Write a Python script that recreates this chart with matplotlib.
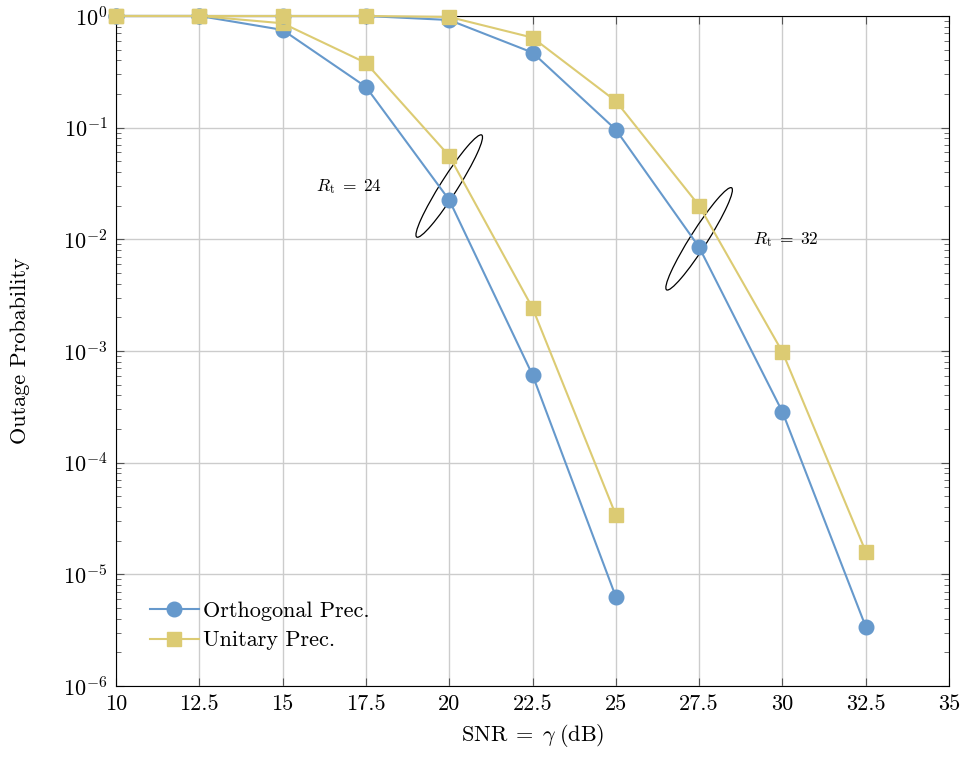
import matplotlib
matplotlib.use("Agg")
import matplotlib.pyplot as plt
from matplotlib.patches import Ellipse
from matplotlib.transforms import ScaledTranslation
from matplotlib.ticker import LogLocator, NullFormatter

plt.rcParams["font.family"] = "serif"
plt.rcParams["font.serif"] = ["cmr10"]
plt.rcParams["mathtext.fontset"] = "cm"
plt.rcParams["axes.formatter.use_mathtext"] = True

# outage probability vs SNR, two target rates
snr_24 = [10, 12.5, 15, 17.5, 20, 22.5, 25]
orth_24 = [1.0, 1.0, 0.75, 0.232, 0.0225, 6.1e-4, 6.3e-6]
unit_24 = [1.0, 1.0, 0.86, 0.38, 0.0558, 2.43e-3, 3.4e-5]

snr_32 = [10, 12.5, 15, 17.5, 20, 22.5, 25, 27.5, 30, 32.5]
orth_32 = [1.0, 1.0, 1.0, 1.0, 0.92, 0.47, 0.096, 8.5e-3, 2.85e-4, 3.4e-6]
unit_32 = [1.0, 1.0, 1.0, 1.0, 0.98, 0.64, 0.173, 0.0200, 9.8e-4, 1.6e-5]

xticks = [10, 12.5, 15, 17.5, 20, 22.5, 25, 27.5, 30, 32.5, 35]
xtick_labels = ["10", "12.5", "15", "17.5", "20", "22.5", "25", "27.5", "30", "32.5", "35"]

# rate annotations and the ellipses grouping each pair of curves
rate_labels = [r"$R_{\mathrm{t}}\;=\;24$", r"$R_{\mathrm{t}}\;=\;32$"]
rate_label_pos = [(17.0, 0.030), (30.1, 0.0100)]
ellipse_pos = [(20.0, 0.030), (27.5, 0.0101)]

blue = "#6699cc"
yellow = "#dccb73"

fig = plt.figure(figsize=(9.67, 7.57), dpi=100)
ax = fig.add_axes([0.12, 0.0938, 0.8614, 0.8851])

style_o = dict(color=blue, marker="o", markersize=10.5, lw=1.5, clip_on=False, zorder=3)
style_s = dict(color=yellow, marker="s", markersize=9.5, lw=1.5, clip_on=False, zorder=3)
ax.plot(snr_24, orth_24, label="Orthogonal Prec.", **style_o)
ax.plot(snr_24, unit_24, label="Unitary Prec.", **style_s)
ax.plot(snr_32, orth_32, **style_o)
ax.plot(snr_32, unit_32, **style_s)

ax.set_yscale("log")
ax.set_xlim(10, 35)
ax.set_ylim(1e-6, 1.0)
ax.set_xticks(xticks)
ax.set_xticklabels(xtick_labels)
ax.yaxis.set_major_locator(LogLocator(base=10, numticks=10))
ax.yaxis.set_minor_locator(LogLocator(base=10, subs=range(2, 10), numticks=10))
ax.yaxis.set_minor_formatter(NullFormatter())
ax.tick_params(which="both", direction="in", top=True, right=True, labelsize=16)
ax.tick_params(which="major", length=6, color="#555555", pad=6)
ax.tick_params(which="minor", length=3.5, color="#555555")
ax.grid(True, which="major", color="#cccccc", lw=1.0)
ax.set_axisbelow(True)

ax.set_xlabel(r"$\mathrm{SNR}\;=\;\gamma\;\mathrm{(dB)}$", fontsize=16, labelpad=6)
ax.set_ylabel("Outage Probability", fontsize=16, labelpad=24)

# ellipses drawn in inches around data-space centres so their shape is fixed
for (cx, cy) in ellipse_pos:
    tr = fig.dpi_scale_trans + ScaledTranslation(cx, cy, ax.transData)
    ax.add_patch(Ellipse((0, 0), width=1.21, height=0.17, angle=57.5,
                         transform=tr, fill=False, ec="black", lw=0.9))

for txt, (tx, ty) in zip(rate_labels, rate_label_pos):
    ax.text(tx, ty, txt, fontsize=12.5, ha="center", va="center")

ax.legend(loc="lower left", bbox_to_anchor=(0.03, 0.04), frameon=False,
          fontsize=16, handlelength=2.2, handletextpad=0.2, labelspacing=0.45,
          borderaxespad=0.0)

fig.savefig("out.png", dpi=100)
